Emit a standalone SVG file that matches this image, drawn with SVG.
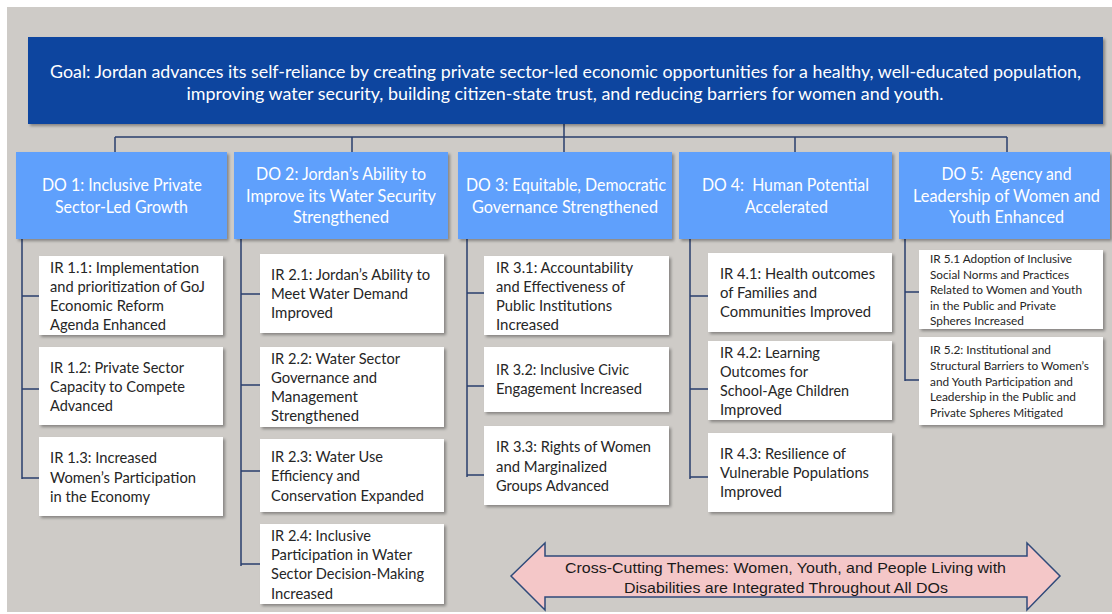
<svg xmlns="http://www.w3.org/2000/svg" width="1112" height="614" viewBox="0 0 1112 614">
<defs>
<filter id="sh" x="-10%" y="-10%" width="120%" height="130%">
<feDropShadow dx="2" dy="2" stdDeviation="1.5" flood-color="#000" flood-opacity="0.35"/>
</filter>
<style>
.goal{fill:#0a449f;}
.do{fill:#5ea0fc;}
.ir{fill:#ffffff;}
.gt{font-family:Lato,"Open Sans",sans-serif;font-size:18px;fill:#ffffff;}
.dt{font-family:Lato,"Open Sans",sans-serif;font-size:17px;fill:#ffffff;}
.it{font-family:Lato,"Open Sans",sans-serif;font-size:15px;fill:#262626;}
.is{font-family:Lato,"Open Sans",sans-serif;font-size:12px;fill:#262626;}
.at{font-family:"Liberation Sans",Arial,sans-serif;font-size:15px;fill:#1a1a1a;}
.c{stroke:#2a3f6e;stroke-width:1.5;fill:none;}
</style>
</defs>
<rect x="0" y="0" width="1112" height="614" fill="#ffffff"/>
<rect x="7" y="7" width="1105" height="605" fill="#cecbc7"/>

<g id="connectors">
<path class="c" d="M564 124V152M115 137H1007M115 137V152M352 137V152M795 137V152M1007 137V152"/>
<path class="c" d="M22 239V479M22 296H39M22 389H39M22 478H39"/>
<path class="c" d="M241 239V566M241 294H260M241 385H260M241 471H260M241 564H260"/>
<path class="c" d="M467 239V477M467 293H484M467 386H484M467 475H484"/>
<path class="c" d="M690 239V479M690 296H708M690 389H708M690 477H708"/>
<path class="c" d="M905 239V381M905 292H919M905 380H919"/>
</g>

<g id="goal">
<rect class="goal" x="28" y="37" width="1075" height="87" filter="url(#sh)"/>
<text class="gt" x="565.5" y="78" text-anchor="middle" textLength="1031" lengthAdjust="spacingAndGlyphs">Goal: Jordan advances its self-reliance by creating private sector-led economic opportunities for a healthy, well-educated population,</text>
<text class="gt" x="565" y="100" text-anchor="middle" textLength="757" lengthAdjust="spacingAndGlyphs">improving water security, building citizen-state trust, and reducing barriers for women and youth.</text>
</g>

<g id="do1">
<rect class="do" x="16" y="152" width="211" height="87" filter="url(#sh)"/>
<text class="dt" x="122" y="191" text-anchor="middle" textLength="160" lengthAdjust="spacingAndGlyphs">DO 1: Inclusive Private</text>
<text class="dt" x="121.5" y="213" text-anchor="middle" textLength="133" lengthAdjust="spacingAndGlyphs">Sector-Led Growth</text>
</g>
<g id="do2">
<rect class="do" x="234" y="152" width="214" height="87" filter="url(#sh)"/>
<text class="dt" x="341" y="180" text-anchor="middle" textLength="170" lengthAdjust="spacingAndGlyphs">DO 2: Jordan’s Ability to</text>
<text class="dt" x="341" y="202" text-anchor="middle" textLength="190" lengthAdjust="spacingAndGlyphs">Improve its Water Security</text>
<text class="dt" x="341" y="223" text-anchor="middle" textLength="96" lengthAdjust="spacingAndGlyphs">Strengthened</text>
</g>
<g id="do3">
<rect class="do" x="458" y="152" width="214" height="87" filter="url(#sh)"/>
<text class="dt" x="566" y="191" text-anchor="middle" textLength="200" lengthAdjust="spacingAndGlyphs">DO 3: Equitable, Democratic</text>
<text class="dt" x="565" y="213" text-anchor="middle" textLength="186" lengthAdjust="spacingAndGlyphs">Governance Strengthened</text>
</g>
<g id="do4">
<rect class="do" x="679" y="152" width="213" height="87" filter="url(#sh)"/>
<text class="dt" x="785.5" y="191" text-anchor="middle" textLength="167" lengthAdjust="spacingAndGlyphs" xml:space="preserve">DO 4:  Human Potential</text>
<text class="dt" x="786.5" y="213" text-anchor="middle" textLength="83" lengthAdjust="spacingAndGlyphs">Accelerated</text>
</g>
<g id="do5">
<rect class="do" x="899" y="152" width="211" height="87" filter="url(#sh)"/>
<text class="dt" x="1006.5" y="180" text-anchor="middle" textLength="130" lengthAdjust="spacingAndGlyphs" xml:space="preserve">DO 5:  Agency and</text>
<text class="dt" x="1006.5" y="202" text-anchor="middle" textLength="187" lengthAdjust="spacingAndGlyphs">Leadership of Women and</text>
<text class="dt" x="1006.5" y="223" text-anchor="middle" textLength="115" lengthAdjust="spacingAndGlyphs">Youth Enhanced</text>
</g>

<g id="ir11">
<rect class="ir" x="39" y="256" width="184" height="79" filter="url(#sh)"/>
<text class="it" x="50" y="273" textLength="149" lengthAdjust="spacingAndGlyphs">IR 1.1: Implementation</text>
<text class="it" x="50" y="292" textLength="155" lengthAdjust="spacingAndGlyphs">and prioritization of GoJ</text>
<text class="it" x="50" y="311" textLength="114" lengthAdjust="spacingAndGlyphs">Economic Reform</text>
<text class="it" x="50" y="330" textLength="116" lengthAdjust="spacingAndGlyphs">Agenda Enhanced</text>
</g>
<g id="ir12">
<rect class="ir" x="39" y="347" width="184" height="78" filter="url(#sh)"/>
<text class="it" x="50" y="373" textLength="134" lengthAdjust="spacingAndGlyphs">IR 1.2: Private Sector</text>
<text class="it" x="50" y="392" textLength="135" lengthAdjust="spacingAndGlyphs">Capacity to Compete</text>
<text class="it" x="50" y="411" textLength="63" lengthAdjust="spacingAndGlyphs">Advanced</text>
</g>
<g id="ir13">
<rect class="ir" x="39" y="437" width="184" height="79" filter="url(#sh)"/>
<text class="it" x="50" y="463" textLength="107" lengthAdjust="spacingAndGlyphs">IR 1.3: Increased</text>
<text class="it" x="50" y="483" textLength="146" lengthAdjust="spacingAndGlyphs">Women’s Participation</text>
<text class="it" x="50" y="502" textLength="100" lengthAdjust="spacingAndGlyphs">in the Economy</text>
</g>

<g id="ir21">
<rect class="ir" x="260" y="254" width="184" height="79" filter="url(#sh)"/>
<text class="it" x="271" y="280" textLength="159" lengthAdjust="spacingAndGlyphs">IR 2.1: Jordan’s Ability to</text>
<text class="it" x="271" y="299" textLength="137" lengthAdjust="spacingAndGlyphs">Meet Water Demand</text>
<text class="it" x="271" y="318" textLength="62" lengthAdjust="spacingAndGlyphs">Improved</text>
</g>
<g id="ir22">
<rect class="ir" x="260" y="347" width="184" height="80" filter="url(#sh)"/>
<text class="it" x="271" y="364" textLength="129" lengthAdjust="spacingAndGlyphs">IR 2.2: Water Sector</text>
<text class="it" x="271" y="383" textLength="106" lengthAdjust="spacingAndGlyphs">Governance and</text>
<text class="it" x="271" y="402" textLength="87" lengthAdjust="spacingAndGlyphs">Management</text>
<text class="it" x="271" y="421" textLength="88" lengthAdjust="spacingAndGlyphs">Strengthened</text>
</g>
<g id="ir23">
<rect class="ir" x="260" y="439" width="184" height="73" filter="url(#sh)"/>
<text class="it" x="271" y="462" textLength="112" lengthAdjust="spacingAndGlyphs">IR 2.3: Water Use</text>
<text class="it" x="271" y="481" textLength="89" lengthAdjust="spacingAndGlyphs">Efficiency and</text>
<text class="it" x="271" y="501" textLength="153" lengthAdjust="spacingAndGlyphs">Conservation Expanded</text>
</g>
<g id="ir24">
<rect class="ir" x="260" y="524" width="184" height="80" filter="url(#sh)"/>
<text class="it" x="271" y="541" textLength="100" lengthAdjust="spacingAndGlyphs">IR 2.4: Inclusive</text>
<text class="it" x="271" y="560" textLength="141" lengthAdjust="spacingAndGlyphs">Participation in Water</text>
<text class="it" x="271" y="579" textLength="153" lengthAdjust="spacingAndGlyphs">Sector Decision-Making</text>
<text class="it" x="271" y="599" textLength="62" lengthAdjust="spacingAndGlyphs">Increased</text>
</g>

<g id="ir31">
<rect class="ir" x="484" y="256" width="185" height="79" filter="url(#sh)"/>
<text class="it" x="496" y="273" textLength="137" lengthAdjust="spacingAndGlyphs">IR 3.1: Accountability</text>
<text class="it" x="496" y="292" textLength="129" lengthAdjust="spacingAndGlyphs">and Effectiveness of</text>
<text class="it" x="496" y="311" textLength="116" lengthAdjust="spacingAndGlyphs">Public Institutions</text>
<text class="it" x="496" y="330" textLength="63" lengthAdjust="spacingAndGlyphs">Increased</text>
</g>
<g id="ir32">
<rect class="ir" x="484" y="347" width="185" height="65" filter="url(#sh)"/>
<text class="it" x="496" y="375" textLength="133" lengthAdjust="spacingAndGlyphs">IR 3.2: Inclusive Civic</text>
<text class="it" x="496" y="394" textLength="146" lengthAdjust="spacingAndGlyphs">Engagement Increased</text>
</g>
<g id="ir33">
<rect class="ir" x="484" y="426" width="185" height="79" filter="url(#sh)"/>
<text class="it" x="496" y="452" textLength="155" lengthAdjust="spacingAndGlyphs">IR 3.3: Rights of Women</text>
<text class="it" x="496" y="472" textLength="111" lengthAdjust="spacingAndGlyphs">and Marginalized</text>
<text class="it" x="496" y="491" textLength="113" lengthAdjust="spacingAndGlyphs">Groups Advanced</text>
</g>

<g id="ir41">
<rect class="ir" x="708" y="253" width="184" height="79" filter="url(#sh)"/>
<text class="it" x="720" y="279" textLength="155" lengthAdjust="spacingAndGlyphs">IR 4.1: Health outcomes</text>
<text class="it" x="720" y="298" textLength="97" lengthAdjust="spacingAndGlyphs">of Families and</text>
<text class="it" x="720" y="317" textLength="151" lengthAdjust="spacingAndGlyphs">Communities Improved</text>
</g>
<g id="ir42">
<rect class="ir" x="708" y="341" width="184" height="79" filter="url(#sh)"/>
<text class="it" x="720" y="358" textLength="100" lengthAdjust="spacingAndGlyphs">IR 4.2: Learning</text>
<text class="it" x="720" y="377" textLength="88" lengthAdjust="spacingAndGlyphs">Outcomes for</text>
<text class="it" x="720" y="396" textLength="129" lengthAdjust="spacingAndGlyphs">School-Age Children</text>
<text class="it" x="720" y="415" textLength="62" lengthAdjust="spacingAndGlyphs">Improved</text>
</g>
<g id="ir43">
<rect class="ir" x="708" y="433" width="184" height="79" filter="url(#sh)"/>
<text class="it" x="720" y="459" textLength="126" lengthAdjust="spacingAndGlyphs">IR 4.3: Resilience of</text>
<text class="it" x="720" y="478" textLength="149" lengthAdjust="spacingAndGlyphs">Vulnerable Populations</text>
<text class="it" x="720" y="497" textLength="62" lengthAdjust="spacingAndGlyphs">Improved</text>
</g>

<g id="ir51">
<rect class="ir" x="919" y="250" width="184" height="79" filter="url(#sh)"/>
<text class="is" x="930" y="263" textLength="142" lengthAdjust="spacingAndGlyphs">IR 5.1 Adoption of Inclusive</text>
<text class="is" x="930" y="278.5" textLength="139" lengthAdjust="spacingAndGlyphs">Social Norms and Practices</text>
<text class="is" x="930" y="294" textLength="152" lengthAdjust="spacingAndGlyphs">Related to Women and Youth</text>
<text class="is" x="930" y="309.5" textLength="126" lengthAdjust="spacingAndGlyphs">in the Public and Private</text>
<text class="is" x="930" y="325" textLength="94" lengthAdjust="spacingAndGlyphs">Spheres Increased</text>
</g>
<g id="ir52">
<rect class="ir" x="919" y="337" width="184" height="88" filter="url(#sh)"/>
<text class="is" x="930" y="354" textLength="121" lengthAdjust="spacingAndGlyphs">IR 5.2: Institutional and</text>
<text class="is" x="930" y="370" textLength="159" lengthAdjust="spacingAndGlyphs">Structural Barriers to Women’s</text>
<text class="is" x="930" y="385.5" textLength="143" lengthAdjust="spacingAndGlyphs">and Youth Participation and</text>
<text class="is" x="930" y="401" textLength="146" lengthAdjust="spacingAndGlyphs">Leadership in the Public and</text>
<text class="is" x="930" y="417" textLength="133" lengthAdjust="spacingAndGlyphs">Private Spheres Mitigated</text>
</g>

<g id="crosscutting">
<polygon points="511,576 545,543 545,556 1027,556 1027,543 1060,576 1027,610 1027,597 545,597 545,610" fill="#f4c7c8" stroke="#2f4a7a" stroke-width="1.5"/>
<text class="at" x="785.5" y="573" text-anchor="middle" textLength="441" lengthAdjust="spacingAndGlyphs">Cross-Cutting Themes: Women, Youth, and People Living with</text>
<text class="at" x="786" y="593" text-anchor="middle" textLength="324" lengthAdjust="spacingAndGlyphs">Disabilities are Integrated Throughout All DOs</text>
</g>
</svg>
